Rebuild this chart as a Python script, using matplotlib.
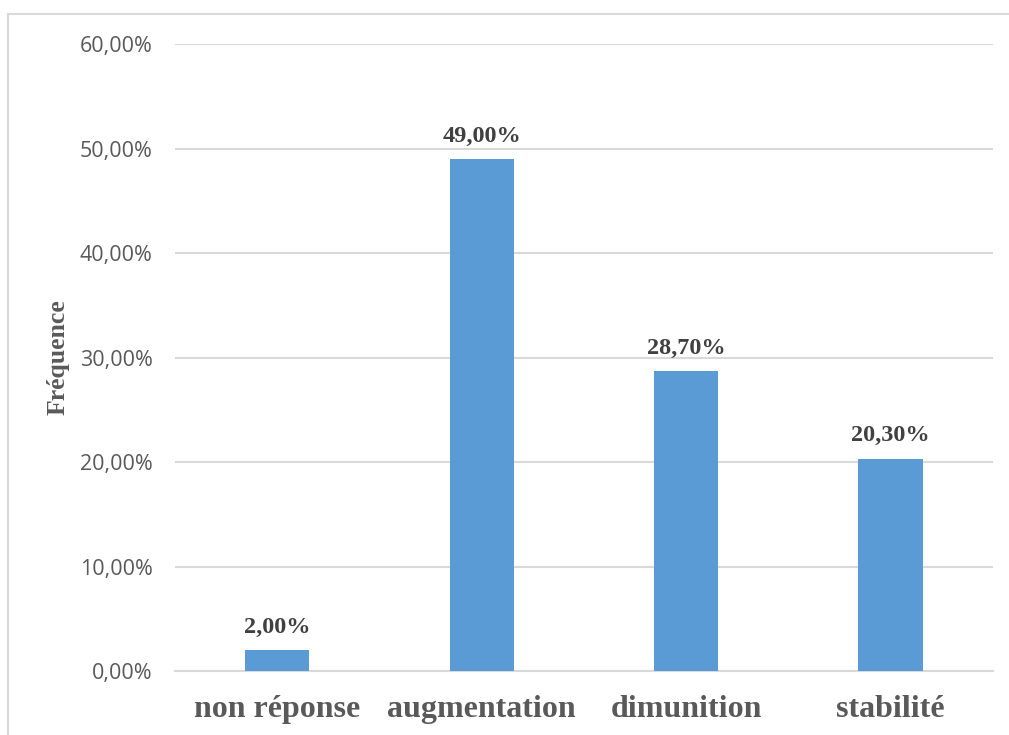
import matplotlib.pyplot as plt
from matplotlib.patches import Rectangle
from matplotlib.ticker import FuncFormatter

categories = ['non réponse', 'augmentation', 'dimunition', 'stabilité']
values = [2.00, 49.00, 28.70, 20.30]
labels = ['2,00%', '49,00%', '28,70%', '20,30%']
yticks = [0, 10, 20, 30, 40, 50, 60]

grey = '#595959'
grid = '#D9D9D9'

fig = plt.figure(figsize=(10.09, 7.35), dpi=100)
ax = fig.add_axes([0.1734, 0.0871, 0.8107, 0.8529])

# cadre autour du graphique
fig.patches.append(Rectangle((8 / 1009, -0.1), 1.2, 1 - 14 / 735 + 0.1,
                             transform=fig.transFigure, fill=False,
                             edgecolor=grid, linewidth=1.5))

x = range(len(categories))
bars = ax.bar(x, values, width=0.315, color='#5B9BD5', zorder=3)

for b, lab in zip(bars, labels):
    ax.annotate(lab, (b.get_x() + b.get_width() / 2, b.get_height()),
                xytext=(0, 9), textcoords='offset points', ha='center', va='bottom',
                fontsize=17.5, fontweight='bold', family='Liberation Serif', color='#404040')

ax.set_xlim(-0.5, 3.5)
ax.set_ylim(0, 60)
ax.set_yticks(yticks)
ax.yaxis.set_major_formatter(FuncFormatter(lambda v, p: f'{v:.2f}%'.replace('.', ',')))
ax.set_xticks(list(x))
ax.set_xticklabels(categories, fontsize=23, fontweight='bold', family='Liberation Serif', color=grey)
for t in ax.get_yticklabels():
    t.set_family('Open Sans')
    t.set_fontsize(15.5)
    t.set_color(grey)

ax.tick_params(axis='both', length=0)
ax.tick_params(axis='y', pad=16)
ax.tick_params(axis='x', pad=17)
ax.grid(axis='y', color=grid, linewidth=1.5, zorder=0)
for s in ['top', 'right', 'left']:
    ax.spines[s].set_visible(False)
ax.spines['bottom'].set_color(grid)
ax.spines['bottom'].set_linewidth(1.5)

ax.set_ylabel('Fréquence', fontsize=18.5, fontweight='bold', family='Liberation Serif', color=grey)
ax.yaxis.set_label_coords((70 - 175) / 818, (735 - 357 - 64) / 627)

fig.savefig('out.png', dpi=100)
